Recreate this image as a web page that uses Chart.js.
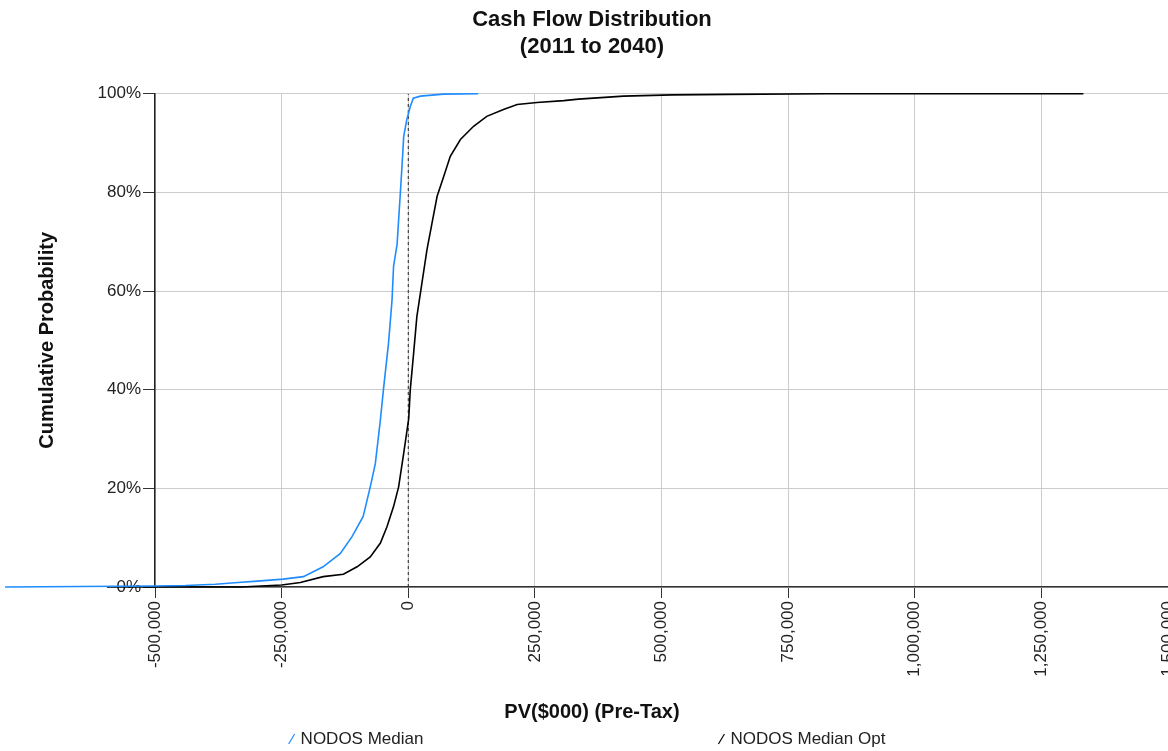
<!DOCTYPE html>
<html>
<head>
<meta charset="utf-8">
<title>Cash Flow Distribution</title>
<script src="https://cdn.jsdelivr.net/npm/chart.js@4.4.1/dist/chart.umd.min.js"></script>
<style>
    html, body { margin: 0; padding: 0; background: #fff; overflow: hidden; }
    #wrap { position: relative; width: 1184px; height: 751px; }
</style>
</head>
<body>
<div id="wrap"><canvas id="graficaCashFlow"></canvas></div>
<script>
// ======================
// DATOS
// ======================
const titulo = ["Cash Flow Distribution", "(2011 to 2040)"];
const tituloX = "PV($000) (Pre-Tax)";
const tituloY = "Cumulative Probability";

const seriesNombres = ["NODOS Median", "NODOS Median Opt"];

// NODOS Median (azul)
const medianX = [-796000, -500000, -440000, -381000, -336000, -298000, -247000, -207000, -168000, -134000,
    -111000, -89000, -75000, -65000, -55000, -49000, -39000, -32000, -29000, -22000,
    -19000, -16000, -12000, -9000, -3000, 4000, 10000, 24000, 70000, 138000];
const medianY = [0, 0.2, 0.3, 0.55, 0.9, 1.2, 1.6, 2.1, 4.1, 6.8,
    10.2, 14.3, 20.3, 25, 33.9, 40, 49.4, 58.2, 65, 69.5,
    74.4, 79.2, 85.9, 91.3, 94.7, 97.4, 99.1, 99.5, 99.9, 100];

// NODOS Median Opt (negro)
const optX = [-595000, -330000, -250000, -213000, -168000, -128000, -101000, -75000, -55000, -42000,
    -29000, -19000, -9000, 1000, 4000, 10000, 17000, 27000, 37000, 47000,
    57000, 70000, 83000, 103000, 129000, 155000, 188000, 215000, 254000, 307000,
    336000, 425000, 521000, 633000, 825000, 1333000];
const optY = [0, 0, 0.4, 0.9, 2.1, 2.6, 4.1, 6.1, 8.9, 12.2,
    16.3, 20.3, 27.1, 34.2, 40, 46.7, 54.8, 61.6, 68.4, 73.8,
    79.2, 83.2, 87.3, 90.7, 93.4, 95.4, 96.8, 97.8, 98.2, 98.6,
    98.9, 99.5, 99.75, 99.85, 100, 100];

// linea de referencia en 0
const refX = [0, 0];
const refY = [0, 100];

const ejeXMin = -500000, ejeXMax = 1500000, ejeXPaso = 250000;
const ejeYMin = 0, ejeYMax = 100, ejeYPaso = 20;

function puntos(xs, ys) {
    return xs.map((x, i) => ({ x: x, y: ys[i] }));
}

// ======================
// LEYENDA (items separados)
// ======================
const leyendaSeparada = {
    id: "leyendaSeparada",
    afterDraw(chart) {
        const ctx = chart.ctx;
        const items = chart.data.datasets.filter(d => d.enLeyenda);
        const y = chart.height - 12;
        ctx.save();
        ctx.font = "17px 'Liberation Sans', Arial, sans-serif";
        const anchos = items.map(d => 12 + ctx.measureText(d.label).width);
        const hueco = 295;
        const total = anchos.reduce((a, b) => a + b, 0) + hueco * (items.length - 1);
        let x = chart.width / 2 - 5 - total / 2;
        items.forEach((d, i) => {
            ctx.strokeStyle = d.borderColor;
            ctx.lineWidth = 1.2;
            ctx.beginPath();
            ctx.moveTo(x, y + 5);
            ctx.lineTo(x + 6, y - 5);
            ctx.stroke();
            ctx.fillStyle = "#222";
            ctx.textBaseline = "middle";
            ctx.textAlign = "left";
            ctx.fillText(d.label, x + 12, y);
            x += anchos[i] + hueco;
        });
        ctx.restore();
    }
};

// ======================
// GRAFICA
// ======================
Chart.defaults.font.family = "'Liberation Sans', Arial, sans-serif";
Chart.defaults.color = "#222";

const ctx = document.getElementById("graficaCashFlow").getContext("2d");

new Chart(ctx, {
    type: "scatter",
    data: {
        datasets: [
            {
                label: seriesNombres[0],
                data: puntos(medianX, medianY),
                showLine: true,
                borderColor: "#1e8cff",
                borderWidth: 1.6,
                pointRadius: 0,
                clip: false,
                enLeyenda: true
            },
            {
                label: seriesNombres[1],
                data: puntos(optX, optY),
                showLine: true,
                borderColor: "#000000",
                borderWidth: 1.6,
                pointRadius: 0,
                clip: false,
                enLeyenda: true
            },
            {
                label: "",
                data: puntos(refX, refY),
                showLine: true,
                borderColor: "#222",
                borderWidth: 1,
                borderDash: [3, 3],
                pointRadius: 0,
                enLeyenda: false
            }
        ]
    },
    options: {
        responsive: true,
        maintainAspectRatio: false,
        animation: false,
        layout: { padding: { top: 0, right: 16, bottom: 27, left: 16 } },
        plugins: {
            legend: { display: false },
            tooltip: { enabled: false },
            title: {
                display: true,
                text: titulo,
                color: "#111",
                font: { size: 22, weight: "bold", lineHeight: 1.22 },
                padding: { top: 7, bottom: 33 }
            },
            subtitle: {
                display: true,
                position: "bottom",
                text: tituloX,
                color: "#111",
                font: { size: 20, weight: "bold", lineHeight: 1.2 },
                padding: { top: 13, bottom: 0 }
            }
        },
        scales: {
            x: {
                type: "linear",
                min: ejeXMin,
                max: ejeXMax,
                afterFit(scale) {
                    scale.height = 100;
                    scale.paddingRight = 0;
                    scale.paddingLeft = 0;
                },
                border: { color: "#333", width: 1.5 },
                grid: { color: "#cccccc", tickColor: "#333", tickLength: 11, lineWidth: 1 },
                ticks: {
                    stepSize: ejeXPaso,
                    autoSkip: false,
                    minRotation: 90,
                    maxRotation: 90,
                    padding: 3,
                    color: "#222",
                    font: { size: 17 },
                    callback: v => v.toLocaleString("en-US")
                }
            },
            y: {
                min: ejeYMin,
                max: ejeYMax,
                afterFit(scale) { scale.width = 139; },
                border: { color: "#222", width: 1.5 },
                grid: { color: "#cccccc", tickColor: "#333", tickLength: 12, lineWidth: 1 },
                title: {
                    display: true,
                    text: tituloY,
                    color: "#111",
                    font: { size: 20, weight: "bold", lineHeight: 1.2 },
                    padding: { top: 19, bottom: 0 }
                },
                ticks: {
                    stepSize: ejeYPaso,
                    padding: 2,
                    color: "#222",
                    font: { size: 17 },
                    callback: v => v + "%"
                }
            }
        }
    },
    plugins: [leyendaSeparada]
});
</script>
</body>
</html>
